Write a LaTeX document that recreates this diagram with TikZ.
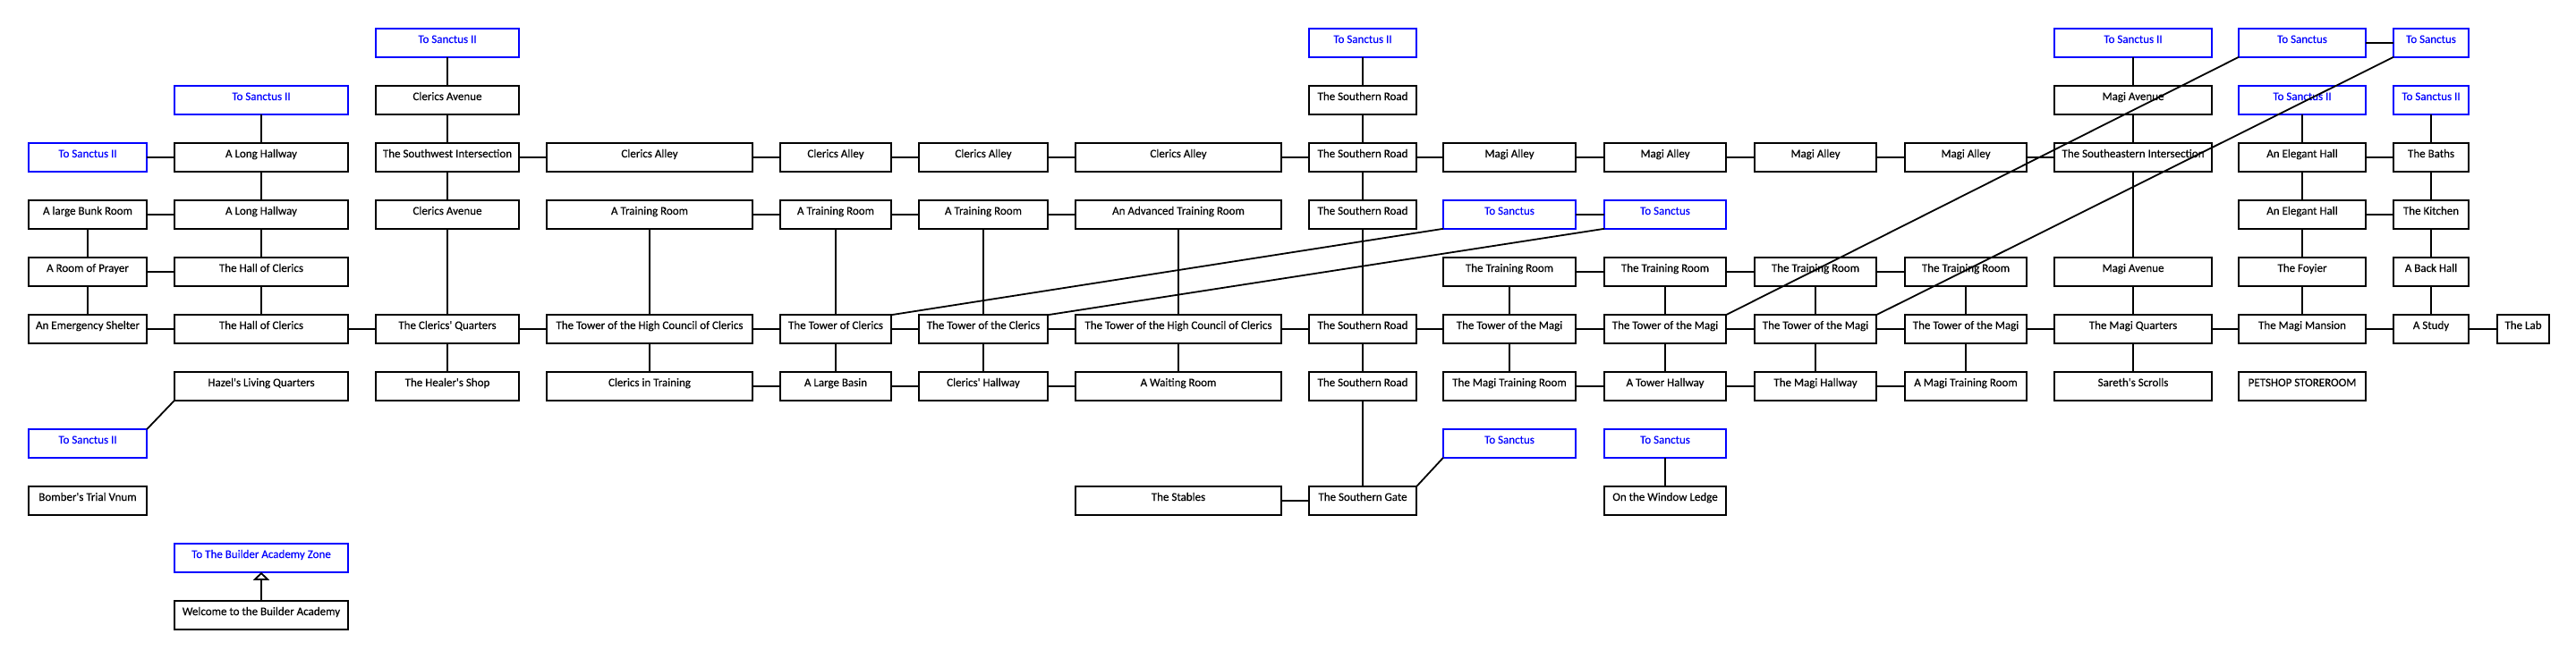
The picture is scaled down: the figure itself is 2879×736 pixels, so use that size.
\documentclass[tikz,border=0pt]{standalone}
\usepackage{fontspec}
\setmainfont{Carlito}
\newfontfamily\roomfont{Carlito}[FakeBold=0.25]
\usetikzlibrary{arrows.meta}
\tikzset{
  x=0.5pt,y=-0.5pt,
  w/.style={minimum width=#1*0.5pt},
  room/.style={draw=black,fill=white,line width=0.9pt,inner sep=0pt,outer sep=0pt,minimum height=15.8pt,
    text height=4pt,text depth=4pt,align=center,font=\roomfont\fontsize{6.5pt}{8pt}\selectfont,text=black},
  exitroom/.style={room,draw=blue,text=blue},
  link/.style={draw=black,line width=0.9pt},
  colA/.style={w=132},colB/.style={w=194},colC/.style={w=160},colD/.style={w=230},
  colE/.style={w=124},colF/.style={w=144},colG/.style={w=230},colH/.style={w=120},
  colI/.style={w=148},colJ/.style={w=136},colK/.style={w=136},colL/.style={w=136},
  colM/.style={w=176},colN/.style={w=142},colO/.style={w=84},colP/.style={w=58},
}
\def\xA{98}\def\xB{292}\def\xC{500}\def\xD{726}\def\xE{934}\def\xF{1099}\def\xG{1317}\def\xH{1523}
\def\xI{1687}\def\xJ{1861}\def\xK{2029}\def\xL{2197}\def\xM{2384}\def\xN{2573}\def\xO{2717}\def\xP{2820}
\begin{document}
\begin{tikzpicture}
\useasboundingbox (0,0) rectangle (2879,736);
% column A
\node[exitroom,colA] (a2) at (\xA,176) {To Sanctus II};
\node[room,colA] (a3) at (\xA,240) {A large Bunk Room};
\node[room,colA] (a4) at (\xA,304) {A Room of Prayer};
\node[room,colA] (a5) at (\xA,368) {An Emergency Shelter};
\node[exitroom,colA] (a7) at (\xA,496) {To Sanctus II};
\node[room,colA] (a8) at (\xA,560) {Bomber's Trial Vnum};
% column B
\node[exitroom,colB] (b1) at (\xB,112) {To Sanctus II};
\node[room,colB] (b2) at (\xB,176) {A Long Hallway};
\node[room,colB] (b3) at (\xB,240) {A Long Hallway};
\node[room,colB] (b4) at (\xB,304) {The Hall of Clerics};
\node[room,colB] (b5) at (\xB,368) {The Hall of Clerics};
\node[room,colB] (b6) at (\xB,432) {Hazel's Living Quarters};
\node[exitroom,colB] (b9) at (\xB,624) {To The Builder Academy Zone};
\node[room,colB] (b10) at (\xB,688) {Welcome to the Builder Academy};
% column C
\node[exitroom,colC] (c0) at (\xC,48) {To Sanctus II};
\node[room,colC] (c1) at (\xC,112) {Clerics Avenue};
\node[room,colC] (c2) at (\xC,176) {The Southwest Intersection};
\node[room,colC] (c3) at (\xC,240) {Clerics Avenue};
\node[room,colC] (c5) at (\xC,368) {The Clerics' Quarters};
\node[room,colC] (c6) at (\xC,432) {The Healer's Shop};
% column D
\node[room,colD] (d2) at (\xD,176) {Clerics Alley};
\node[room,colD] (d3) at (\xD,240) {A Training Room};
\node[room,colD] (d5) at (\xD,368) {The Tower of the High Council of Clerics};
\node[room,colD] (d6) at (\xD,432) {Clerics in Training};
% column E
\node[room,colE] (e2) at (\xE,176) {Clerics Alley};
\node[room,colE] (e3) at (\xE,240) {A Training Room};
\node[room,colE] (e5) at (\xE,368) {The Tower of Clerics};
\node[room,colE] (e6) at (\xE,432) {A Large Basin};
% column F
\node[room,colF] (f2) at (\xF,176) {Clerics Alley};
\node[room,colF] (f3) at (\xF,240) {A Training Room};
\node[room,colF] (f5) at (\xF,368) {The Tower of the Clerics};
\node[room,colF] (f6) at (\xF,432) {Clerics' Hallway};
% column G
\node[room,colG] (g2) at (\xG,176) {Clerics Alley};
\node[room,colG] (g3) at (\xG,240) {An Advanced Training Room};
\node[room,colG] (g5) at (\xG,368) {The Tower of the High Council of Clerics};
\node[room,colG] (g6) at (\xG,432) {A Waiting Room};
\node[room,colG] (g8) at (\xG,560) {The Stables};
% column H
\node[exitroom,colH] (h0) at (\xH,48) {To Sanctus II};
\node[room,colH] (h1) at (\xH,112) {The Southern Road};
\node[room,colH] (h2) at (\xH,176) {The Southern Road};
\node[room,colH] (h3) at (\xH,240) {The Southern Road};
\node[room,colH] (h5) at (\xH,368) {The Southern Road};
\node[room,colH] (h6) at (\xH,432) {The Southern Road};
\node[room,colH] (h8) at (\xH,560) {The Southern Gate};
% column I
\node[room,colI] (i2) at (\xI,176) {Magi Alley};
\node[exitroom,colI] (i3) at (\xI,240) {To Sanctus};
\node[room,colI] (i4) at (\xI,304) {The Training Room};
\node[room,colI] (i5) at (\xI,368) {The Tower of the Magi};
\node[room,colI] (i6) at (\xI,432) {The Magi Training Room};
\node[exitroom,colI] (i7) at (\xI,496) {To Sanctus};
% column J
\node[room,colJ] (j2) at (\xJ,176) {Magi Alley};
\node[exitroom,colJ] (j3) at (\xJ,240) {To Sanctus};
\node[room,colJ] (j4) at (\xJ,304) {The Training Room};
\node[room,colJ] (j5) at (\xJ,368) {The Tower of the Magi};
\node[room,colJ] (j6) at (\xJ,432) {A Tower Hallway};
\node[exitroom,colJ] (j7) at (\xJ,496) {To Sanctus};
\node[room,colJ] (j8) at (\xJ,560) {On the Window Ledge};
% column K
\node[room,colK] (k2) at (\xK,176) {Magi Alley};
\node[room,colK] (k4) at (\xK,304) {The Training Room};
\node[room,colK] (k5) at (\xK,368) {The Tower of the Magi};
\node[room,colK] (k6) at (\xK,432) {The Magi Hallway};
% column L
\node[room,colL] (l2) at (\xL,176) {Magi Alley};
\node[room,colL] (l4) at (\xL,304) {The Training Room};
\node[room,colL] (l5) at (\xL,368) {The Tower of the Magi};
\node[room,colL] (l6) at (\xL,432) {A Magi Training Room};
% column M
\node[exitroom,colM] (m0) at (\xM,48) {To Sanctus II};
\node[room,colM] (m1) at (\xM,112) {Magi Avenue};
\node[room,colM] (m2) at (\xM,176) {The Southeastern Intersection};
\node[room,colM] (m4) at (\xM,304) {Magi Avenue};
\node[room,colM] (m5) at (\xM,368) {The Magi Quarters};
\node[room,colM] (m6) at (\xM,432) {Sareth's Scrolls};
% column N
\node[exitroom,colN] (n0) at (\xN,48) {To Sanctus};
\node[exitroom,colN] (n1) at (\xN,112) {To Sanctus II};
\node[room,colN] (n2) at (\xN,176) {An Elegant Hall};
\node[room,colN] (n3) at (\xN,240) {An Elegant Hall};
\node[room,colN] (n4) at (\xN,304) {The Foyier};
\node[room,colN] (n5) at (\xN,368) {The Magi Mansion};
\node[room,colN] (n6) at (\xN,432) {PETSHOP STOREROOM};
% column O
\node[exitroom,colO] (o0) at (\xO,48) {To Sanctus};
\node[exitroom,colO] (o1) at (\xO,112) {To Sanctus II};
\node[room,colO] (o2) at (\xO,176) {The Baths};
\node[room,colO] (o3) at (\xO,240) {The Kitchen};
\node[room,colO] (o4) at (\xO,304) {A Back Hall};
\node[room,colO] (o5) at (\xO,368) {A Study};
% column P
\node[room,colP] (p5) at (\xP,368) {The Lab};
% straight connectors
\foreach \s/\t in {c0/c1,c1/c2,c2/c3,c3/c5,c5/c6,
  b1/b2,b2/b3,b3/b4,b4/b5,a3/a4,a4/a5,a2/b2,a3/b3,a4/b4,
  a5/b5,b5/c5,c5/d5,d5/e5,e5/f5,f5/g5,g5/h5,h5/i5,i5/j5,j5/k5,k5/l5,l5/m5,m5/n5,n5/o5,o5/p5,
  c2/d2,d2/e2,e2/f2,f2/g2,g2/h2,h2/i2,i2/j2,j2/k2,k2/l2,l2/m2,
  d3/e3,e3/f3,f3/g3,d3/d5,e3/e5,f3/f5,g3/g5,d5/d6,e5/e6,f5/f6,g5/g6,d6/e6,e6/f6,f6/g6,
  h0/h1,h1/h2,h2/h3,h3/h5,h5/h6,h6/h8,g8/h8,
  i3/j3,i4/j4,j4/k4,k4/l4,i4/i5,j4/j5,k4/k5,l4/l5,i5/i6,j5/j6,k5/k6,l5/l6,i6/j6,j6/k6,k6/l6,j7/j8,
  m0/m1,m1/m2,m2/m4,m4/m5,m5/m6,n0/o0,n1/n2,n2/n3,n3/n4,n4/n5,o1/o2,o2/o3,o3/o4,o4/o5,n2/o2,n3/o3}
  {\draw[link] (\s) -- (\t);}
% corner-to-corner connectors
\draw[link] (a7.north east) -- (b6.south west);
\draw[link] (h8.north east) -- (i7.south west);
\draw[link] (e5.north east) -- (i3.south west);
\draw[link] (f5.north east) -- (j3.south west);
\draw[link] (j5.north east) -- (n0.south west);
\draw[link] (k5.north east) -- (o0.south west);
% arrow
\draw[link,-{Triangle[open,length=4.5pt,width=9pt,fill=white]}] (b10) -- (b9);
\end{tikzpicture}
\end{document}
